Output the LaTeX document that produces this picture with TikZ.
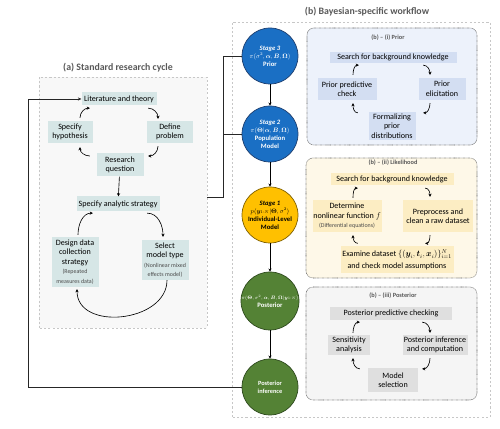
\documentclass[tikz,border=0pt]{standalone}
\usepackage{amsmath,bm}
\usepackage{fontspec}
\setmainfont{Carlito}
\usetikzlibrary{arrows.meta}

\definecolor{cycFill}{HTML}{F8F8F8}
\definecolor{tealBox}{HTML}{D6E6E6}
\definecolor{priorBg}{HTML}{EDF2FB}
\definecolor{priorBox}{HTML}{D3DEF2}
\definecolor{likBg}{HTML}{FEF8E8}
\definecolor{likBox}{HTML}{FCEDC3}
\definecolor{postBg}{HTML}{F5F5F5}
\definecolor{postBox}{HTML}{DFDFDF}
\definecolor{stBlue}{HTML}{1A6FC4}
\definecolor{stBlueD}{HTML}{1F3F6F}
\definecolor{stYel}{HTML}{FFC000}
\definecolor{stYelD}{HTML}{7F6000}
\definecolor{stGrn}{HTML}{548235}
\definecolor{stGrnD}{HTML}{2E4A1E}
\definecolor{titleGray}{HTML}{595959}

\begin{document}
\begin{tikzpicture}[x=0.05cm,y=0.05cm,
		cyc/.style={-{Stealth[length=4.5pt,width=4.5pt]},line width=.9pt},
		link/.style={line width=1.1pt,draw=black!85},
		wh/.style 2 args={minimum width=#1*0.05cm,minimum height=#2*0.05cm},
		box/.style={inner sep=1pt,align=center,font=\fontsize{11.5}{13.5}\selectfont},
		stage/.style={circle,minimum size=2.8cm,inner sep=0pt,align=center,line width=1pt,font=\fontsize{9.5}{11.5}\selectfont},
		sub/.style={rounded corners=10pt,densely dotted,draw=black!65,line width=.8pt},
		tag/.style={font=\fontsize{9}{11}\selectfont\bfseries,text=titleGray}]
		\useasboundingbox (0,0) rectangle (500,429);

		%titles
		\node[font=\fontsize{14}{16}\selectfont\bfseries,text=titleGray] (tA) at (118,361) {(a) Standard research cycle};
		\node[font=\fontsize{14}{16}\selectfont\bfseries,text=titleGray] (tB) at (367,417) {(b) Bayesian-specific workflow};

		%panels
		\draw[dashed,draw=black!22,fill=cycFill,line width=.8pt] (39,101) rectangle (207,352);
		\draw[dashed,draw=black!22,line width=.8pt] (232,12) rectangle (490,407);
		\draw[sub,fill=priorBg] (307,284) rectangle (477,401);
		\draw[sub,fill=likBg] (306,151) rectangle (477,271);
		\draw[sub,fill=postBg] (306,29) rectangle (477,142);
		\node[tag] (tP) at (388,391) {(b) -- (i) Prior};
		\node[tag] (tL) at (393,266) {(b) -- (ii) Likelihood};
		\node[tag] (tQ) at (393,133) {(b) -- (iii) Posterior};

		%research cycle
		\node[box,fill=tealBox,wh={75}{13}] (lit) at (119,330) {Literature and theory};
		\node[box,fill=tealBox,wh={45}{22}] (hyp) at (70,297) {Specify\\hypothesis};
		\node[box,fill=tealBox,wh={46}{22}] (def) at (170,297) {Define\\problem};
		\node[box,fill=tealBox,wh={47}{23}] (rq) at (120,264) {Research\\question};
		\node[box,fill=tealBox,wh={83}{15}] (strat) at (118,225) {Specify analytic strategy};
		\node[box,fill=tealBox,wh={47}{50}] (design) at (75,167) {Design data\\collection\\strategy\\{\fontsize{8.5}{10}\selectfont\color{black!70}(Repeated}\\{\fontsize{8.5}{10}\selectfont\color{black!70}measures data)}};
		\node[box,fill=tealBox,wh={47}{40}] (select) at (165,169) {Select\\model type\\{\fontsize{8.5}{10}\selectfont\color{black!70}(Nonlinear mixed}\\{\fontsize{8.5}{10}\selectfont\color{black!70}effects model)}};

		\draw[cyc] ([shift={(10,3)}]hyp.north) to[out=90,in=180] ([shift={(8.5,-2.5)}]lit.south west);
		\draw[cyc] ([shift={(-8.5,-2.5)}]lit.south east) to[out=0,in=90] ([shift={(-12,2)}]def.north);
		\draw[cyc] ([shift={(-12,-3)}]def.south) to[out=-90,in=0] ([shift={(4.5,9)}]rq.east);
		\draw[cyc] ([shift={(-6.5,9)}]rq.west) to[out=180,in=-90] ([shift={(10,-4)}]hyp.south);
		\draw[cyc] (rq) -- (strat);
		\draw[cyc] ([shift={(-12.5,-1.5)}]strat.south east) to[out=0,in=90] ([shift={(-2,3)}]select.north);
		\draw[cyc] ([shift={(2,0)}]select.south) to[out=-90,in=-90,looseness=1.2] ([shift={(2,-2)}]design.south);
		\draw[cyc] ([shift={(3,2)}]design.north) to[out=90,in=180] ([shift={(16.5,-1.5)}]strat.south west);

		%stages
		\node[stage,fill=stBlue,draw=stBlueD,text=white] (s3) at (270,373) {{\bfseries\itshape Stage 3}\\{\fontsize{9}{12}\selectfont$\pi(\sigma^2,\bm{\alpha},\bm{B},\bm{\Omega})$}\\{\bfseries Prior}};
		\node[stage,fill=stBlue,draw=stBlueD,text=white] (s2) at (270,295) {{\bfseries\itshape Stage 2}\\{\fontsize{9}{12}\selectfont$\pi(\bm{\Theta}|\bm{\alpha},\bm{B},\bm{\Omega})$}\\{\bfseries Population}\\{\bfseries Model}};
		\node[stage,fill=stYel,draw=stYelD] (s1) at (270,214) {{\bfseries\itshape Stage 1}\\{\fontsize{9}{12}\selectfont$p(\bm{y}_{1:N}|\bm{\Theta},\sigma^2)$}\\{\bfseries Individual-Level}\\{\bfseries Model}};
		\node[stage,fill=stGrn,draw=stGrnD,text=white] (post) at (270,128) {{\fontsize{7}{10}\selectfont$\pi(\bm{\Theta},\sigma^2,\bm{\alpha},\bm{B},\bm{\Omega}|\bm{y}_{1:N})$}\\{\bfseries Posterior}};
		\node[stage,fill=stGrn,draw=stGrnD,text=white,font=\fontsize{9}{11}\selectfont\bfseries] (pinf) at (270,42) {Posterior\\inference};

		\draw[cyc] (s3) -- (s2);
		\draw[cyc] (s2) -- (s1);
		\draw[cyc] (s1) -- (post);
		\draw[cyc] (post) -- (pinf);

		%links
		\coordinate (cycOut) at (207,232);
		\draw[link] (cycOut) -- ++(16,0) |- (s3.west);
		\draw[link] (s2.west) -- ++(-19,0);
		\draw[link,-{Stealth[length=5pt,width=4.5pt]}] (pinf.west) -- ++(-213,0) |- (lit.west);

		%prior
		\node[box,fill=priorBox,wh={127}{11}] (pS) at (393,371.5) {Search for background knowledge};
		\node[box,fill=priorBox,wh={59}{22}] (pC) at (347,340) {Prior predictive\\check};
		\node[box,fill=priorBox,wh={47}{22}] (pE) at (442,340) {Prior\\elicitation};
		\node[box,fill=priorBox,wh={47}{28}] (pF) at (392,303) {Formalizing\\prior\\distributions};
		\draw[cyc] ([shift={(6,3)}]pC.north) to[out=90,in=180] ([shift={(29.5,-2)}]pS.south west);
		\draw[cyc] ([shift={(-33.5,-2)}]pS.south east) to[out=0,in=90] ([shift={(-12,3)}]pE.north);
		\draw[cyc] ([shift={(-12,-3)}]pE.south) to[out=-90,in=0] ([shift={(7.5,-1)}]pF.north east);
		\draw[cyc] ([shift={(-10.5,-1)}]pF.north west) to[out=180,in=-90] ([shift={(6,-3)}]pC.south);

		%likelihood
		\node[box,fill=likBox,wh={123}{12}] (lS) at (392,250) {Search for background knowledge};
		\node[box,fill=likBox,wh={69}{32}] (lD) at (347,213) {Determine\\nonlinear function $f$\\{\fontsize{8.5}{10}\selectfont\color{black!70}(Differential equations)}};
		\node[box,fill=likBox,wh={70}{32}] (lP) at (438,213) {Preprocess and\\clean a raw dataset};
		\node[box,fill=likBox,wh={113}{27}] (lX) at (397,169) {Examine dataset $\{(\bm{y}_i,\bm{t}_i,\bm{x}_i)\}_{i=1}^N$\\[3.5pt]and check model assumptions};
		\draw[cyc] ([shift={(6,2)}]lD.north) to[out=90,in=180] ([shift={(27.5,-3)}]lS.south west);
		\draw[cyc] ([shift={(-28.5,-3)}]lS.south east) to[out=0,in=90] ([shift={(-8,3)}]lP.north);
		\draw[cyc] ([shift={(-8,-3)}]lP.south) to[out=-90,in=0] ([shift={(-28.5,3)}]lX.north east);
		\draw[cyc] ([shift={(17.5,3)}]lX.north west) to[out=180,in=-90] ([shift={(6,-3)}]lD.south);

		%posterior
		\node[box,fill=postBox,wh={122}{13}] (qS) at (391,115.5) {Posterior predictive checking};
		\node[box,fill=postBox,wh={42}{20}] (qA) at (349,84) {Sensitivity\\analysis};
		\node[box,fill=postBox,wh={65}{20}] (qI) at (435,84) {Posterior inference\\and computation};
		\node[box,fill=postBox,wh={50}{24}] (qM) at (393,49) {Model\\selection};
		\draw[cyc] ([shift={(4,2)}]qA.north) to[out=90,in=180] ([shift={(30,-2)}]qS.south west);
		\draw[cyc] ([shift={(-30,-2)}]qS.south east) to[out=0,in=90] ([shift={(-5,2)}]qI.north);
		\draw[cyc] ([shift={(-5,-3)}]qI.south) to[out=-90,in=0] ([shift={(4,-1)}]qM.north east);
		\draw[cyc] ([shift={(-8,-1)}]qM.north west) to[out=180,in=-90] ([shift={(4,-3)}]qA.south);
	\end{tikzpicture}
\end{document}
